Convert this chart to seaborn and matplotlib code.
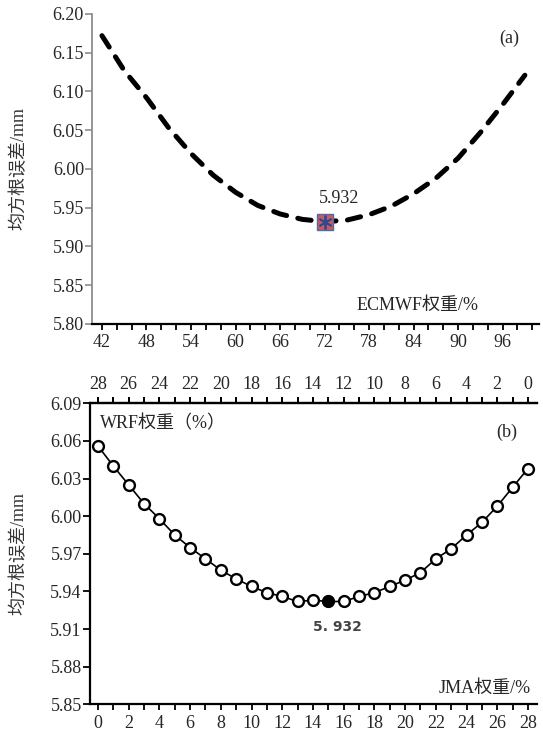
import matplotlib
matplotlib.use("Agg")
import matplotlib.pyplot as plt
import seaborn as sns
import numpy as np
import pandas as pd
from matplotlib.ticker import MultipleLocator, FormatStrFormatter

# ---------------- data ----------------
ecmwf_weight = [42, 45, 48, 51, 54, 57, 60, 63, 66, 69, 72, 75, 78, 81, 84, 87, 90, 93, 96, 99]
rmse_a = [6.172, 6.127, 6.092, 6.053, 6.020, 5.992, 5.970, 5.953, 5.942, 5.935, 5.932,
          5.934, 5.941, 5.952, 5.968, 5.988, 6.014, 6.047, 6.083, 6.121]

jma_weight = list(range(0, 29))
rmse_b = [6.056, 6.040, 6.025, 6.010, 5.998, 5.985, 5.975, 5.966, 5.957, 5.950,
          5.944, 5.939, 5.936, 5.932, 5.933, 5.932, 5.932, 5.936, 5.939, 5.944,
          5.949, 5.955, 5.966, 5.974, 5.985, 5.995, 6.008, 6.023, 6.038]
wrf_total = 28
a_xticks = [42, 48, 54, 60, 66, 72, 78, 84, 90, 96]
a_yticks = [5.80, 5.85, 5.90, 5.95, 6.00, 6.05, 6.10, 6.15, 6.20]
b_xticks = list(range(0, 29, 2))
b_yticks = [5.85, 5.88, 5.91, 5.94, 5.97, 6.00, 6.03, 6.06, 6.09]

df_a = pd.DataFrame({"w": ecmwf_weight, "rmse": rmse_a})
df_b = pd.DataFrame({"w": jma_weight, "rmse": rmse_b})

sns.set_theme(style="ticks")
plt.rcParams["font.family"] = ["Liberation Serif", "Noto Sans CJK SC", "DejaVu Sans"]
plt.rcParams["axes.unicode_minus"] = False
FAM = ["Liberation Serif", "Noto Sans CJK SC", "DejaVu Sans"]
FS = 13

fig = plt.figure(figsize=(5.43, 7.32), dpi=100)

# ---------------- panel (a) ----------------
ax1 = fig.add_axes([0.170, 0.5574, 0.8226, 0.4235])
sns.lineplot(data=df_a, x="w", y="rmse", ax=ax1, color="black", linewidth=3.6,
             sort=False, estimator=None)
ln = ax1.lines[0]
ln.set_linestyle((0, (2.7, 2.3)))
ln.set_dash_capstyle("round")

imin = int(np.argmin(rmse_a))
ax1.plot(ecmwf_weight[imin], rmse_a[imin], marker="s", markersize=11,
         markerfacecolor="#cc5a5a", markeredgecolor="#4a6aa8", markeredgewidth=1.0,
         linestyle="none", zorder=5)
ax1.plot(ecmwf_weight[imin], rmse_a[imin], marker=(6, 2, 0), markersize=10,
         markeredgecolor="#2c4a94", markeredgewidth=1.3, linestyle="none", zorder=6)
ax1.text(ecmwf_weight[imin] + 2.0, rmse_a[imin] + 0.030, f"{rmse_a[imin]:.3f}",
         ha="center", va="center", fontsize=FS, family=FAM)

ax1.set_xlim(40.7, 100.9)
ax1.set_ylim(5.80, 6.20)
ax1.set_xticks(a_xticks)
ax1.xaxis.set_minor_locator(MultipleLocator(2))
ax1.set_yticks(a_yticks)
ax1.yaxis.set_major_formatter(FormatStrFormatter("%.2f"))
ax1.spines["top"].set_visible(False)
ax1.spines["right"].set_visible(False)
ax1.spines["left"].set_color("#8c8c8c")
ax1.spines["left"].set_linewidth(1.3)
ax1.spines["bottom"].set_color("black")
ax1.spines["bottom"].set_linewidth(1.6)
ax1.tick_params(axis="x", which="both", direction="out", length=4.5, width=1.3,
                color="black", labelsize=FS, pad=3)
ax1.tick_params(axis="y", which="both", direction="out", length=5, width=1.2,
                color="#8c8c8c", labelsize=FS, pad=1)
ax1.set_xlabel("")
ax1.set_ylabel("均方根误差/mm", fontsize=FS, family=FAM, color="#333333")
ax1.yaxis.set_label_coords(-0.145, 0.5)
ax1.text(84.5, 5.824, "ECMWF权重/%", ha="center", va="center", fontsize=FS, family=FAM)
ax1.text(96.9, 6.1685, "(a)", ha="center", va="center", fontsize=FS, family=FAM)

# ---------------- panel (b) ----------------
ax2 = fig.add_axes([0.1657, 0.0378, 0.8227, 0.4112])
sns.lineplot(data=df_b, x="w", y="rmse", ax=ax2, color="black", linewidth=1.2,
             marker="o", markersize=7.8, markerfacecolor="white",
             markeredgecolor="black", markeredgewidth=1.7, estimator=None)
jmin = 15
ax2.plot(jma_weight[jmin], rmse_b[jmin], marker="o", markersize=7.8,
         markerfacecolor="black", markeredgecolor="black", linestyle="none", zorder=5)
ax2.text(jma_weight[jmin] + 0.6, 5.9117, "5. 932", ha="center", va="center",
         fontsize=10, family=["DejaVu Sans"], color="#444444", fontweight="bold")

ax2.set_xlim(-0.52, 28.57)
ax2.set_ylim(5.85, 6.09)
ax2.set_xticks(b_xticks)
ax2.xaxis.set_minor_locator(MultipleLocator(1))
ax2.set_yticks(b_yticks)
ax2.yaxis.set_major_formatter(FormatStrFormatter("%.2f"))
ax2.spines["right"].set_visible(False)
for s in ["left", "top", "bottom"]:
    ax2.spines[s].set_color("black")
    ax2.spines[s].set_linewidth(1.6)
ax2.tick_params(axis="x", which="both", direction="out", length=4.5, width=1.3,
                color="black", labelsize=FS, pad=3, top=True, labeltop=False)
ax2.tick_params(axis="y", which="both", direction="out", length=5, width=1.3,
                color="black", labelsize=FS, pad=1)
ax2.set_xlabel("")
ax2.set_ylabel("均方根误差/mm", fontsize=FS, family=FAM, color="#333333")
ax2.yaxis.set_label_coords(-0.14, 0.5)

# secondary top axis: WRF weight
sec = ax2.secondary_xaxis("top", functions=(lambda v: wrf_total - v, lambda v: wrf_total - v))
sec.set_xticks(b_xticks)
sec.xaxis.set_minor_locator(MultipleLocator(1))
sec.tick_params(axis="x", which="both", direction="out", length=4.5, width=1.3,
                color="black", labelsize=FS, pad=3)
sec.spines["top"].set_linewidth(1.6)

ax2.text(0.13, 6.074, "WRF权重（%）", ha="left", va="center", fontsize=FS, family=FAM)
ax2.text(26.65, 6.0666, "(b)", ha="center", va="center", fontsize=FS, family=FAM)
ax2.text(28.17, 5.8627, "JMA权重/%", ha="right", va="center", fontsize=FS, family=FAM)

fig.savefig("out.png", dpi=100)
